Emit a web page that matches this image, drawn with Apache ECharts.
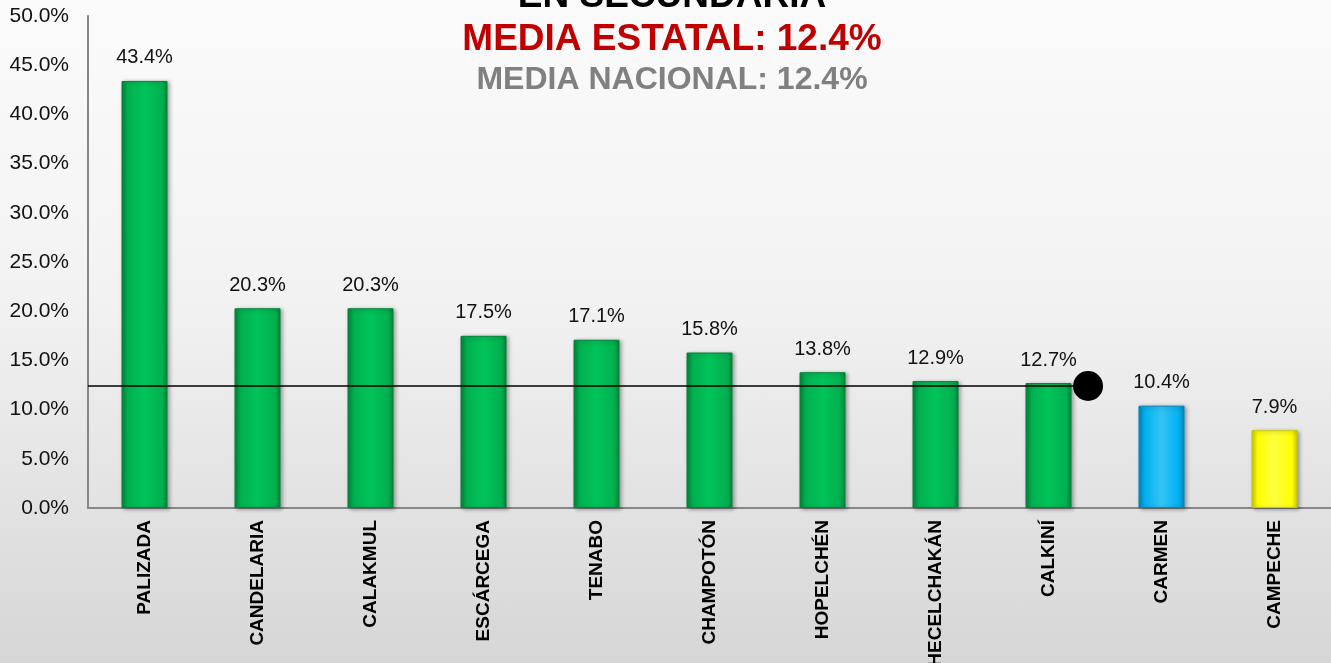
<!DOCTYPE html>
<html>
<head>
<meta charset="utf-8">
<script src="https://cdn.jsdelivr.net/npm/echarts@6/dist/echarts.min.js"></script>
<style>
  html, body { margin: 0; padding: 0; }
  #grafik { width: 1331px; height: 663px; background: linear-gradient(#fbfbfb 0%, #f2f2f2 45%, #d6d6d6 100%); }
</style>
</head>
<body>
<div id="grafik"></div>
<script>
var municipios = ['PALIZADA', 'CANDELARIA', 'CALAKMUL', 'ESCÁRCEGA', 'TENABO', 'CHAMPOTÓN', 'HOPELCHÉN', 'HECELCHAKÁN', 'CALKINÍ', 'CARMEN', 'CAMPECHE'];
var porcentaje = [43.4, 20.3, 20.3, 17.5, 17.1, 15.8, 13.8, 12.9, 12.7, 10.4, 7.9];
var tipoBarra = ['v', 'v', 'v', 'v', 'v', 'v', 'v', 'v', 'v', 'a', 'm'];
var mediaEstatal = 12.4;
var mediaNacional = 12.4;
// hasta donde llega la linea de la media (en unidades de categoria)
var lineaMediaX = [0, 8.85];

var warna = {
  v: ['#00843a', '#00c45a', '#00b050'],
  a: ['#0085b8', '#33c4f5', '#00b0f0'],
  m: ['#c8c800', '#ffff40', '#ffff00']
};

function gradBar(c) {
  return new echarts.graphic.LinearGradient(0, 0, 1, 0, [
    { offset: 0, color: c[0] },
    { offset: 0.12, color: c[2] },
    { offset: 0.5, color: c[1] },
    { offset: 0.88, color: c[2] },
    { offset: 1, color: c[0] }
  ]);
}

var myChart = echarts.init(document.getElementById('grafik'));

var dataBar = porcentaje.map(function (v, i) {
  var c = warna[tipoBarra[i]];
  return {
    value: v,
    itemStyle: { color: gradBar(c), borderColor: c[0], borderWidth: 1 }
  };
});

var option = {
  animation: false,
  textStyle: { fontFamily: 'Arial, "Liberation Sans", sans-serif' },
  graphic: [
    { type: 'text', x: 672, y: -3, style: { text: 'EN SECUNDARIA', fill: '#000', font: 'bold 37px Arial, "Liberation Sans"', textAlign: 'center', textVerticalAlign: 'middle' } },
    { type: 'text', x: 672, y: 40, style: { text: 'MEDIA ESTATAL: ' + mediaEstatal.toFixed(1) + '%', fill: '#c00000', font: 'bold 37px Arial, "Liberation Sans"', textAlign: 'center', textVerticalAlign: 'middle' } },
    { type: 'text', x: 672, y: 80, style: { text: 'MEDIA NACIONAL: ' + mediaNacional.toFixed(1) + '%', fill: '#808080', font: 'bold 32px Arial, "Liberation Sans"', textAlign: 'center', textVerticalAlign: 'middle' } }
  ],
  grid: { left: 88, right: 0, top: 16, bottom: 155, containLabel: false, outerBoundsMode: 'none' },
  xAxis: [
    {
      type: 'category',
      data: municipios,
      axisLine: { lineStyle: { color: '#868686', width: 2 } },
      axisTick: { show: false },
      axisLabel: { rotate: 90, fontSize: 19, fontWeight: 'bold', color: '#000', margin: 12 }
    },
    { type: 'value', min: 0, max: 11, show: false }
  ],
  yAxis: {
    type: 'value',
    min: 0,
    max: 50,
    interval: 5,
    splitLine: { show: false },
    axisLine: { show: true, lineStyle: { color: '#868686', width: 2 } },
    axisTick: { show: false },
    axisLabel: { fontSize: 21, color: '#111', margin: 19, formatter: function (v) { return v.toFixed(1) + '%'; } }
  },
  series: [
    {
      type: 'bar',
      barWidth: 46,
      data: dataBar,
      itemStyle: { shadowColor: 'rgba(0,0,0,0.35)', shadowBlur: 4, shadowOffsetX: 2, shadowOffsetY: 1 },
      label: { show: true, position: 'top', distance: 13, fontSize: 20, color: '#111', formatter: function (p) { return p.value.toFixed(1) + '%'; } }
    },
    {
      type: 'line',
      xAxisIndex: 1,
      data: [
        { value: [lineaMediaX[0], mediaEstatal], symbol: 'none' },
        { value: [lineaMediaX[1], mediaEstatal], symbol: 'circle', symbolSize: 30 }
      ],
      lineStyle: { color: '#000', width: 1.5 },
      itemStyle: { color: '#000' },
      z: 5
    }
  ]
};

myChart.setOption(option);
</script>
</body>
</html>
